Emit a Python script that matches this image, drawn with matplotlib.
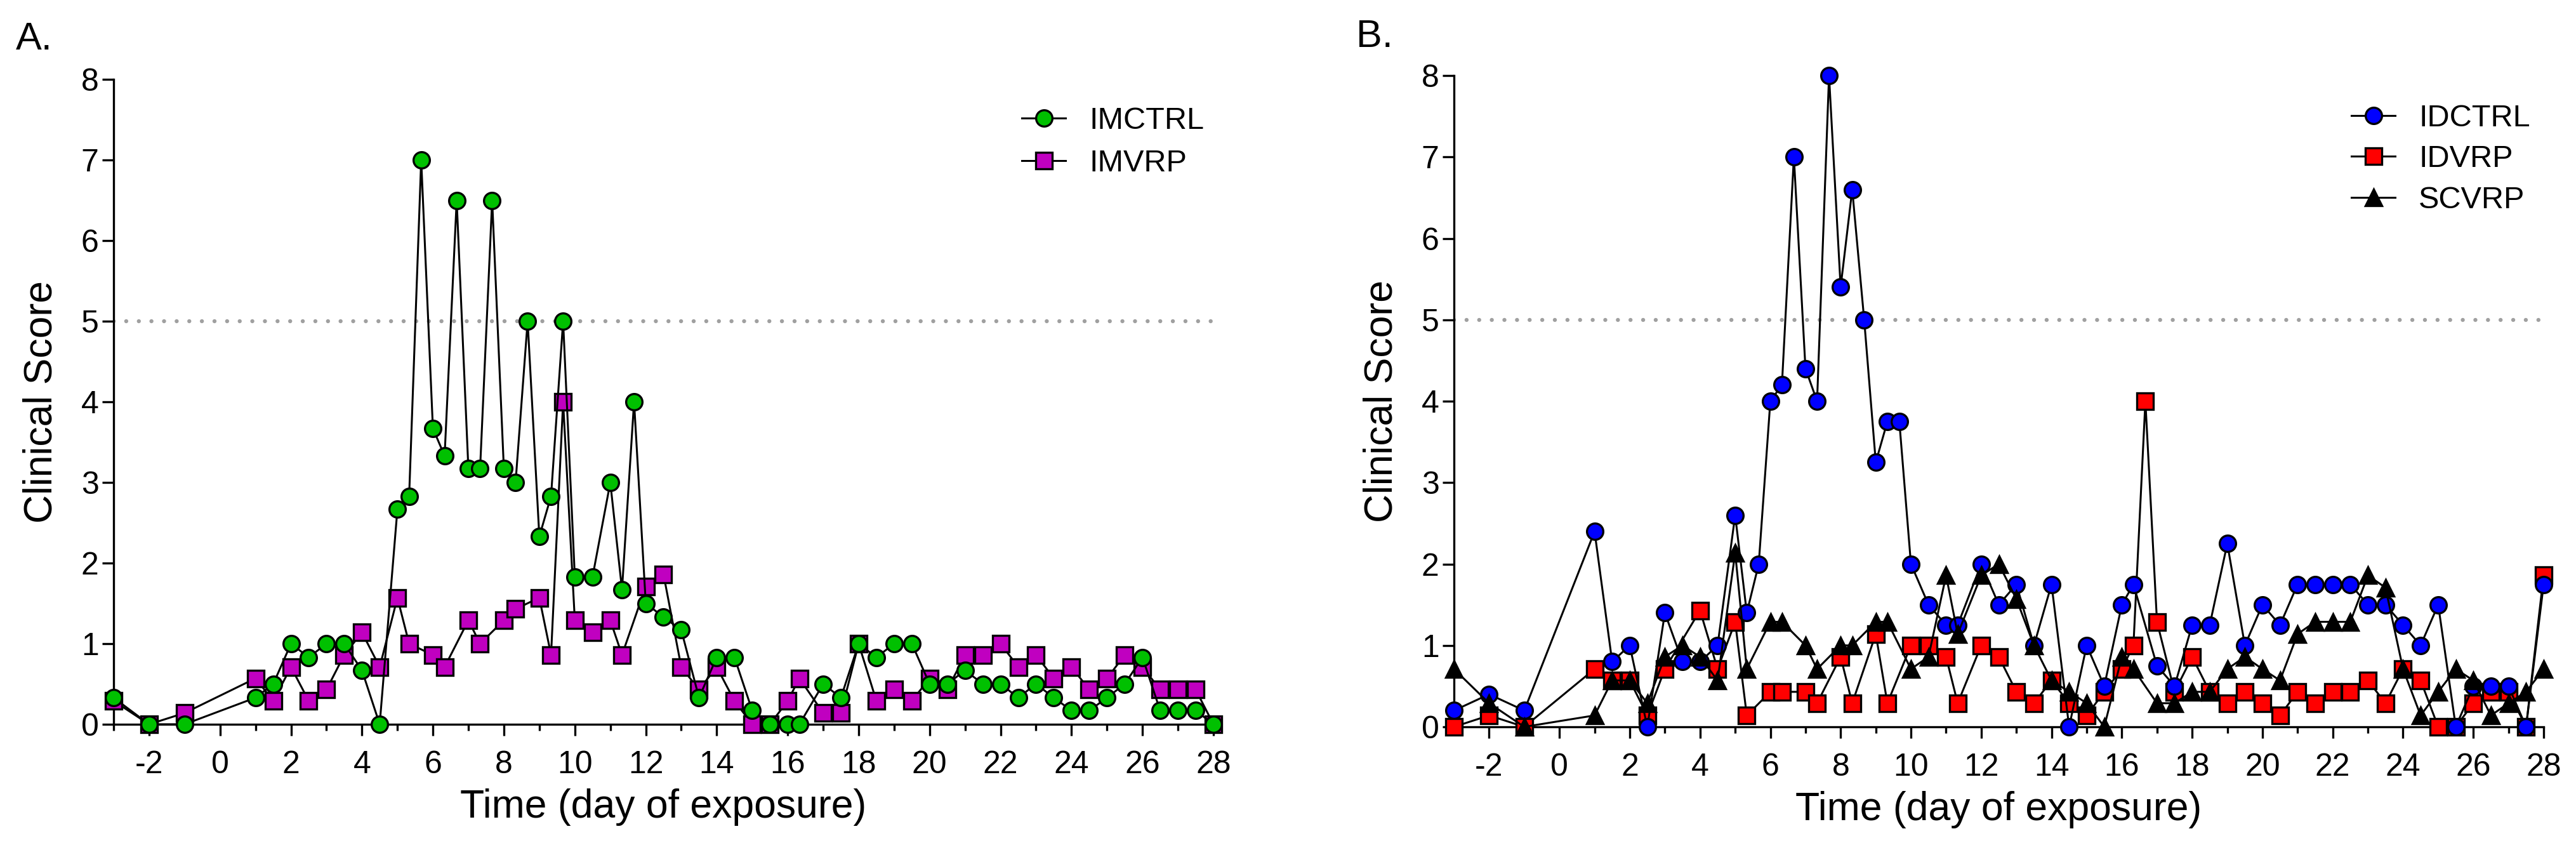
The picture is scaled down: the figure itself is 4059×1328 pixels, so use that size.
import matplotlib
matplotlib.use("Agg")
import matplotlib.pyplot as plt
from matplotlib.ticker import MultipleLocator

plt.rcParams['font.family'] = ['Liberation Sans', 'DejaVu Sans']
plt.rcParams['axes.unicode_minus'] = False

# ---- panel A data ----
days_imctrl = [-3, -2, -1, 1, 1.5, 2, 2.5, 3, 3.5, 4, 4.5,
               5, 5.33, 5.67, 6, 6.33, 6.67, 7, 7.33, 7.67, 8, 8.33, 8.67, 9, 9.33, 9.67,
               10, 10.5, 11, 11.33, 11.67,
               12, 12.5, 13, 13.5, 14, 14.5, 15, 15.5, 16, 16.33,
               17, 17.5, 18, 18.5, 19, 19.5, 20, 20.5, 21, 21.5, 22, 22.5,
               23, 23.5, 24, 24.5, 25, 25.5, 26, 26.5, 27, 27.5, 28]
imctrl = [0.33, 0, 0, 0.33, 0.5, 1.0, 0.83, 1.0, 1.0, 0.67, 0,
          2.67, 2.83, 7.0, 3.67, 3.33, 6.5, 3.17, 3.17, 6.5, 3.17, 3.0, 5.0, 2.33, 2.83, 5.0,
          1.83, 1.83, 3.0, 1.67, 4.0,
          1.5, 1.33, 1.17, 0.33, 0.83, 0.83, 0.17, 0, 0, 0,
          0.5, 0.33, 1.0, 0.83, 1.0, 1.0, 0.5, 0.5, 0.67, 0.5, 0.5, 0.33,
          0.5, 0.33, 0.17, 0.17, 0.33, 0.5, 0.83, 0.17, 0.17, 0.17, 0]

days_imvrp = [-3, -2, -1, 1, 1.5, 2, 2.5, 3, 3.5, 4, 4.5,
              5, 5.33, 6, 6.33, 7, 7.33, 8, 8.33, 9, 9.33, 9.67,
              10, 10.5, 11, 11.33,
              12, 12.5, 13, 13.5, 14, 14.5, 15, 15.5, 16, 16.33,
              17, 17.5, 18, 18.5, 19, 19.5, 20, 20.5, 21, 21.5, 22, 22.5,
              23, 23.5, 24, 24.5, 25, 25.5, 26, 26.5, 27, 27.5, 28]
imvrp = [0.29, 0, 0.14, 0.57, 0.29, 0.71, 0.29, 0.43, 0.86, 1.14, 0.71,
         1.57, 1.0, 0.86, 0.71, 1.29, 1.0, 1.29, 1.43, 1.57, 0.86, 4.0,
         1.29, 1.14, 1.29, 0.86,
         1.71, 1.86, 0.71, 0.43, 0.71, 0.29, 0, 0, 0.29, 0.57,
         0.14, 0.14, 1.0, 0.29, 0.43, 0.29, 0.57, 0.43, 0.86, 0.86, 1.0, 0.71,
         0.86, 0.57, 0.71, 0.43, 0.57, 0.86, 0.71, 0.43, 0.43, 0.43, 0]

# ---- panel B data ----
days_idctrl = [-3, -2, -1, 1, 1.5, 2, 2.5, 3, 3.5, 4, 4.5,
               5, 5.33, 5.67, 6, 6.33, 6.67, 7, 7.33, 7.67, 8, 8.33, 8.67, 9, 9.33, 9.67,
               10, 10.5, 11, 11.33,
               12, 12.5, 13, 13.5, 14, 14.5, 15, 15.5, 16, 16.33,
               17, 17.5, 18, 18.5, 19, 19.5, 20, 20.5, 21, 21.5, 22, 22.5,
               23, 23.5, 24, 24.5, 25, 25.5, 26, 26.5, 27, 27.5, 28]
idctrl = [0.2, 0.4, 0.2, 2.4, 0.8, 1.0, 0, 1.4, 0.8, 0.8, 1.0,
          2.6, 1.4, 2.0, 4.0, 4.2, 7.0, 4.4, 4.0, 8.0, 5.4, 6.6, 5.0, 3.25, 3.75, 3.75,
          2.0, 1.5, 1.25, 1.25,
          2.0, 1.5, 1.75, 1.0, 1.75, 0, 1.0, 0.5, 1.5, 1.75,
          0.75, 0.5, 1.25, 1.25, 2.25, 1.0, 1.5, 1.25, 1.75, 1.75, 1.75, 1.75,
          1.5, 1.5, 1.25, 1.0, 1.5, 0, 0.5, 0.5, 0.5, 0, 1.75]

days_idvrp = [-3, -2, -1, 1, 1.5, 2, 2.5, 3, 4, 4.5,
              5, 5.33, 6, 6.33, 7, 7.33, 8, 8.33, 9, 9.33,
              10, 10.5, 11, 11.33,
              12, 12.5, 13, 13.5, 14, 14.5, 15, 15.5, 16, 16.33, 16.67,
              17, 17.5, 18, 18.5, 19, 19.5, 20, 20.5, 21, 21.5, 22, 22.5,
              23, 23.5, 24, 24.5, 25, 25.5, 26, 26.5, 27, 27.5, 28]
idvrp = [0, 0.14, 0, 0.71, 0.57, 0.57, 0.14, 0.71, 1.43, 0.71,
         1.29, 0.14, 0.43, 0.43, 0.43, 0.29, 0.86, 0.29, 1.14, 0.29,
         1.0, 1.0, 0.86, 0.29,
         1.0, 0.86, 0.43, 0.29, 0.57, 0.29, 0.14, 0.43, 0.71, 1.0, 4.0,
         1.29, 0.43, 0.86, 0.43, 0.29, 0.43, 0.29, 0.14, 0.43, 0.29, 0.43, 0.43,
         0.57, 0.29, 0.71, 0.57, 0, 0, 0.29, 0.43, 0.43, 0, 1.86]

days_scvrp = [-3, -2, -1, 1, 1.5, 2, 2.5, 3, 3.5, 4, 4.5,
              5, 5.33, 6, 6.33, 7, 7.33, 8, 8.33, 9, 9.33,
              10, 10.5, 11, 11.33,
              12, 12.5, 13, 13.5, 14, 14.5, 15, 15.5, 16, 16.33,
              17, 17.5, 18, 18.5, 19, 19.5, 20, 20.5, 21, 21.5, 22, 22.5,
              23, 23.5, 24, 24.5, 25, 25.5, 26, 26.5, 27, 27.5, 28]
scvrp = [0.71, 0.29, 0, 0.14, 0.57, 0.57, 0.29, 0.86, 1.0, 0.86, 0.57,
         2.14, 0.71, 1.29, 1.29, 1.0, 0.71, 1.0, 1.0, 1.29, 1.29,
         0.71, 0.86, 1.86, 1.14,
         1.86, 2.0, 1.57, 1.0, 0.57, 0.43, 0.29, 0, 0.86, 0.71,
         0.29, 0.29, 0.43, 0.43, 0.71, 0.86, 0.71, 0.57, 1.14, 1.29, 1.29, 1.29,
         1.86, 1.71, 0.71, 0.14, 0.43, 0.71, 0.57, 0.14, 0.29, 0.43, 0.71]

threshold = 5
x_ticks = list(range(-2, 29, 2))
y_ticks = list(range(0, 9))

fig = plt.figure(figsize=(40.59, 13.28), dpi=100)
axA = fig.add_axes([0.04410, 0.14081, 0.42695, 0.76506])
axB = fig.add_axes([0.56443, 0.13780, 0.42301, 0.77259])

MS = 18.5
MEW = 2.4
LW = 2.2


def style(ax):
    ax.set_xlim(-3, 28)
    ax.set_ylim(0, 8)
    ax.spines['top'].set_visible(False)
    ax.spines['right'].set_visible(False)
    for s in ('left', 'bottom'):
        ax.spines[s].set_linewidth(2.4)
    ax.set_xticks(x_ticks)
    ax.set_yticks(y_ticks)
    ax.xaxis.set_minor_locator(MultipleLocator(1))
    ax.tick_params(axis='both', which='major', direction='out', length=13.3,
                   width=2.4, labelsize=36, color='black')
    ax.tick_params(axis='x', which='major', pad=16)
    ax.tick_params(axis='y', which='major', pad=3.6)
    ax.tick_params(axis='x', which='minor', direction='out', length=7.5, width=2.4)
    ax.set_xlabel('Time (day of exposure)', fontsize=45, labelpad=10)
    ax.set_ylabel('Clinical Score', fontsize=45, labelpad=24)
    ax.axhline(threshold, color='#a0a0a0', lw=4.6, linestyle=(0, (0.01, 3.1)),
               dash_capstyle='round', zorder=1)


def series(ax, x, y, marker, color, label, z):
    return ax.plot(x, y, color='black', lw=LW, marker=marker, ms=MS,
                   markerfacecolor=color, markeredgecolor='black', markeredgewidth=MEW,
                   label=label, clip_on=False, zorder=z)[0]


style(axA)
h2 = series(axA, days_imvrp, imvrp, 's', '#c000c0', 'IMVRP', 3)
h1 = series(axA, days_imctrl, imctrl, 'o', '#00c000', 'IMCTRL', 4)
axA.legend(handles=[h1, h2], loc='upper left', bbox_to_anchor=(0.3967, 0.8735),
           bbox_transform=fig.transFigure, frameon=False, fontsize=35,
           handlelength=1.42, handletextpad=0.76, labelspacing=0.45,
           borderpad=0, borderaxespad=0, numpoints=1)

style(axB)
g2 = series(axB, days_idvrp, idvrp, 's', '#ff0000', 'IDVRP', 3)
g1 = series(axB, days_idctrl, idctrl, 'o', '#0000ff', 'IDCTRL', 4)
g3 = series(axB, days_scvrp, scvrp, '^', 'black', 'SCVRP', 5)
axB.legend(handles=[g1, g2, g3], loc='upper left', bbox_to_anchor=(0.9128, 0.8765),
           bbox_transform=fig.transFigure, frameon=False, fontsize=35,
           handlelength=1.42, handletextpad=0.76, labelspacing=0.4,
           borderpad=0, borderaxespad=0, numpoints=1)

fig.text(25 / 4059, 1 - 78 / 1328, 'A.', fontsize=44, va='baseline', ha='left')
fig.text(2137 / 4059, 1 - 74 / 1328, 'B.', fontsize=44, va='baseline', ha='left')

fig.savefig('out.png', dpi=100)
